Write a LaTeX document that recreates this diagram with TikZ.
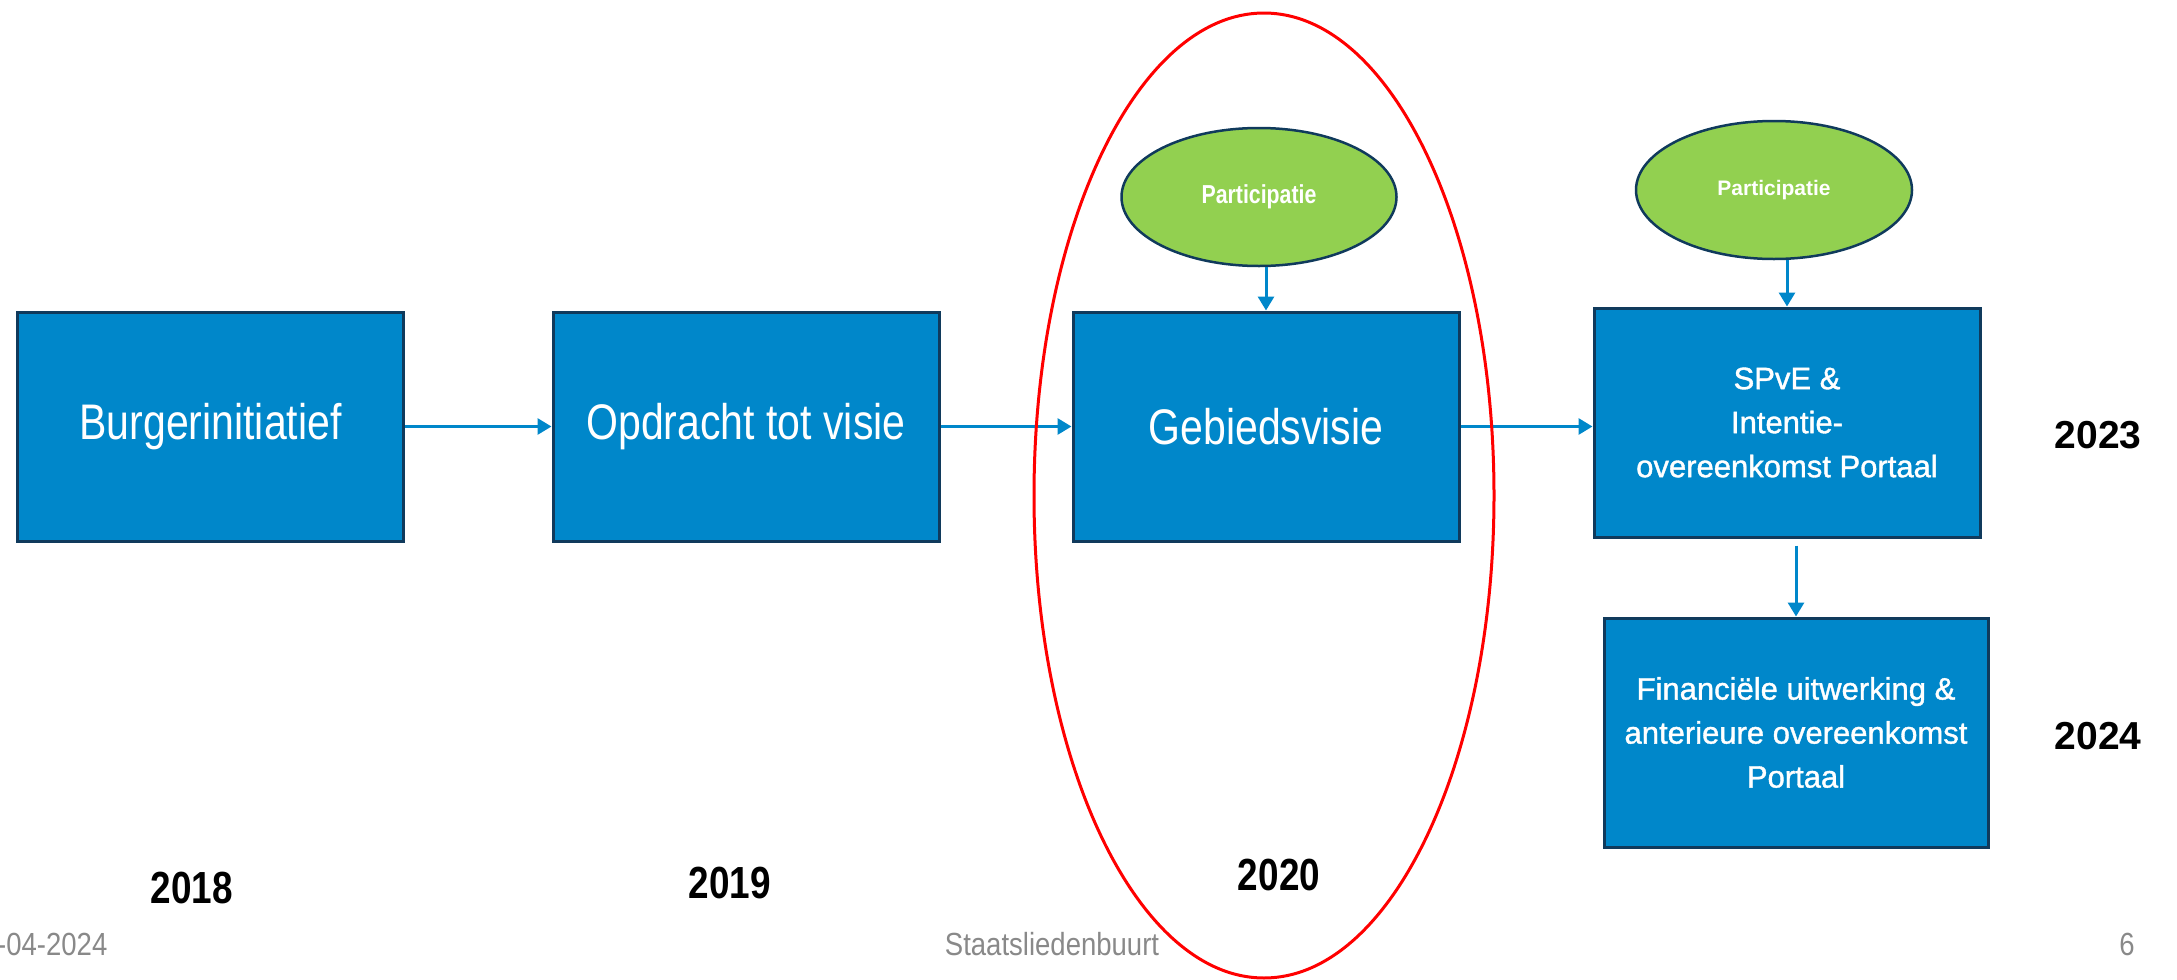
\documentclass[tikz,border=0pt]{standalone}
\usepackage{fontspec}
\setmainfont{Liberation Sans}
\newfontfamily\condfont[FakeStretch=0.82]{Liberation Sans}
\newfontfamily\footfont[FakeStretch=0.86]{Liberation Sans}
\newfontfamily\medfont[FakeBold=1.2]{Liberation Sans}
\usetikzlibrary{arrows.meta,shapes.geometric,calc}
\definecolor{boxblue}{RGB}{0,135,202}
\definecolor{navy}{RGB}{16,58,92}
\definecolor{partgreen}{RGB}{146,208,80}
\definecolor{footgray}{RGB}{137,137,137}
\begin{document}
\begin{tikzpicture}[x=1pt,y=-1pt,
  stepbox/.style={rectangle, draw=navy, fill=boxblue, line width=3pt,
    minimum width=386pt, minimum height=229pt, inner sep=0pt,
    text=white, align=center},
  condtext/.style={font=\condfont\fontsize{50}{54}\selectfont},
  widetext/.style={font=\medfont\fontsize{31}{44}\selectfont},
  partell/.style={ellipse, draw=navy, fill=partgreen, line width=2.5pt,
    minimum width=275pt, minimum height=138pt, inner sep=0pt, text=white},
  flow/.style={draw=boxblue, line width=3pt, -{Triangle[length=14pt,width=16pt]}},
  yearc/.style={font=\condfont\bfseries\fontsize{45}{48}\selectfont},
  yearw/.style={font=\bfseries\fontsize{39}{44}\selectfont},
  foot/.style={text=footgray, font=\footfont\fontsize{32}{36}\selectfont}
]
\useasboundingbox (0,0) rectangle (2177,980);

\node[stepbox, condtext] (b1) at (210.5,426.5) {Burgerinitiatief};
\node[stepbox, condtext] (b2) at (746,426.5) {Opdracht tot visie};
\node[stepbox, condtext] (b3) at (1266,426.5) {Gebiedsvisie};
\node[stepbox, widetext] (b4) at (1787,422.5) {SPvE \&\\Intentie-\\overeenkomst Portaal};
\node[stepbox, widetext, minimum width=384pt] (b5) at (1796,732.5) {Financiële uitwerking \&\\anterieure overeenkomst\\Portaal};

\node[partell, font=\condfont\bfseries\fontsize{26}{28}\selectfont] (e1) at (1259,197) {Participatie};
\node[partell, minimum width=276pt, font=\bfseries\fontsize{21}{24}\selectfont] (e2) at (1774,190) {Participatie};

\draw[flow] (b1.east) -- (b2.west);
\draw[flow] (b2.east) -- (b3.west);
\draw[flow] (b3.east) -- (b3.east -| b4.west);
\draw[flow] (b3.north |- e1.south) -- (b3.north);
\draw[flow] (b4.north |- e2.south) -- (b4.north);
\draw[flow] ($(b4.south -| b5.north)+(0,7)$) -- (b5.north);

\node[yearc] (y2018) at (192,888) {2018};
\node[yearc] (y2019) at (730,883) {2019};
\node[yearc] (y2020) at (1279,875) {2020};
\node[yearw] (y2023) at (2098,435) {2023};
\node[yearw] (y2024) at (2098,736) {2024};

\node[foot, anchor=west, inner sep=0pt] (date) at (-3,944) {-04-2024};
\node[foot] (place) at (1052,944) {Staatsliedenbuurt};
\node[foot] (page) at (2127,944) {6};

\node[ellipse, draw=red, line width=3pt, minimum width=460pt, minimum height=965pt, inner sep=0pt] (focus) at (1264,495.5) {};
\end{tikzpicture}
\end{document}
